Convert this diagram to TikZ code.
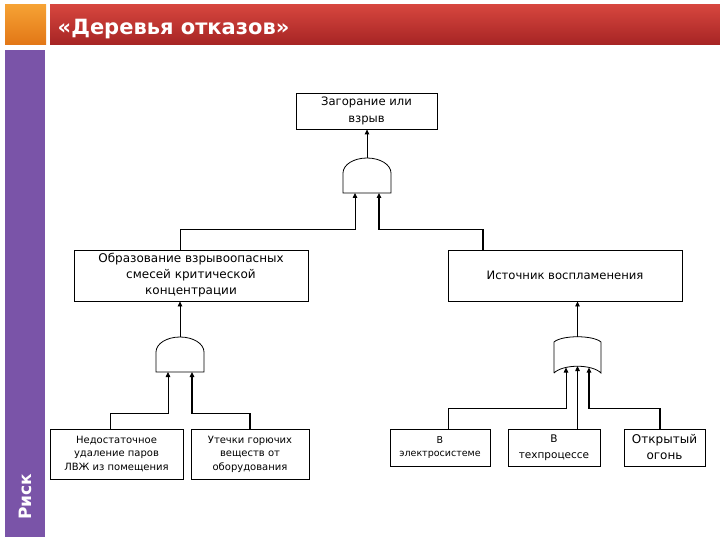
\documentclass[tikz,border=0pt]{standalone}
\usepackage{fontspec}
\setmainfont{DejaVu Sans}
\usetikzlibrary{arrows.meta}
\definecolor{orangetop}{RGB}{246,162,52}
\definecolor{orangebot}{RGB}{226,118,22}
\definecolor{redtop}{RGB}{214,70,62}
\definecolor{redbot}{RGB}{166,36,36}
\definecolor{sidebar}{RGB}{122,84,168}
\begin{document}
\begin{tikzpicture}[x=1pt, y=-1pt, line width=0.8pt,
    box/.style={draw, rectangle, align=center, inner sep=0pt, font=\fontsize{11.6}{16.5}\selectfont},
    leaf/.style={box, minimum height=37pt, font=\fontsize{10}{13.5}\selectfont},
    gate/.style={draw, fill=white},
    link/.style={-{Triangle[length=5pt,width=4.5pt]}},
    boldlink/.style={link, line width=1.4pt}]
    \useasboundingbox (0,0) rectangle (720,540);

    % frame of the slide
    \shade[top color=orangetop, bottom color=orangebot] (5,5) rectangle (46,45);
    \shade[top color=redtop, bottom color=redbot] (50,5) rectangle (720,45);
    \fill[sidebar] (5,50) rectangle (45,537);
    \node (title) [anchor=west, text=white, font=\bfseries\fontsize{21}{24}\selectfont] at (54,29) {«Деревья отказов»};
    \node (risk) [rotate=90, text=white, font=\bfseries\fontsize{17}{18}\selectfont] at (25,497) {Риск};

    % events
    \node (top) [box, minimum width=141pt, minimum height=36pt] at (366.5,111) {Загорание или\\взрыв};
    \node (ml) [box, minimum width=234pt, minimum height=51pt, font=\fontsize{12}{16}\selectfont] at (191,275.5) {Образование взрывоопасных\\смесей критической\\концентрации};
    \node (mr) [box, minimum width=234pt, minimum height=51pt] at (565,275.5) {Источник воспламенения};
    \node (A) [leaf, minimum width=133pt, minimum height=50pt] at (116.5,454) {Недостаточное\\удаление паров\\ЛВЖ из помещения};
    \node (B) [leaf, minimum width=118pt, minimum height=50pt] at (250,454) {Утечки горючих\\веществ от\\оборудования};
    \node (C) [leaf, minimum width=100pt, font=\fontsize{9.5}{13}\selectfont] at (440,447.5) {В\\электросистеме};
    \node (D) [leaf, minimum width=92pt, font=\fontsize{10.5}{16}\selectfont] at (554,447.5) {В\\техпроцессе};
    \node (E) [leaf, minimum width=81pt, font=\fontsize{12}{16}\selectfont] at (664.5,447.5) {Открытый\\огонь};

    % gates
    \draw[gate] (343,193) -- (343,173) arc[start angle=180, end angle=360, x radius=24, y radius=15] -- (391,193) -- cycle; % and
    \draw[gate] (156,372) -- (156,352) arc[start angle=180, end angle=360, x radius=24, y radius=15] -- (204,372) -- cycle; % and
    \draw[gate] (554,373) -- (554,342) .. controls (562,335) and (593,335) .. (601,342) -- (601,373) .. controls (592,364) and (563,364) .. (554,373); % or
    \coordinate (g1out) at (367,158);
    \coordinate (g1in1) at (355,193);
    \coordinate (g1in2) at (379,193);
    \coordinate (g2out) at (180,337);
    \coordinate (g2in1) at (168,372);
    \coordinate (g2in2) at (192,372);
    \coordinate (g3out) at (577.5,337);
    \coordinate (g3in1) at (566,367.5);
    \coordinate (g3in2) at (577.5,366);
    \coordinate (g3in3) at (589,367.5);

    % connectors
    \draw[link] (g1out) -- (g1out |- top.south);
    \draw[link] ([xshift=-11pt]ml.north) -- ++(0,-20) -| (g1in1);
    \draw[boldlink] ([xshift=-82pt]mr.north) -- ++(0,-20) -| (g1in2);
    \draw[link] (g2out) -- (g2out |- ml.south);
    \draw[link] ([xshift=-6.5pt]A.north) -- ++(0,-15) -| (g2in1);
    \draw[boldlink] (B.north) -- ++(0,-15) -| (g2in2);
    \draw[link] (g3out) -- (g3out |- mr.south);
    \draw[link] ([xshift=8pt]C.north) -- ++(0,-20) -| (g3in1);
    \draw[link] (g3in2 |- D.north) -- (g3in2);
    \draw[boldlink] ([xshift=-4.5pt]E.north) -- ++(0,-20) -| (g3in3);
\end{tikzpicture}
\end{document}
